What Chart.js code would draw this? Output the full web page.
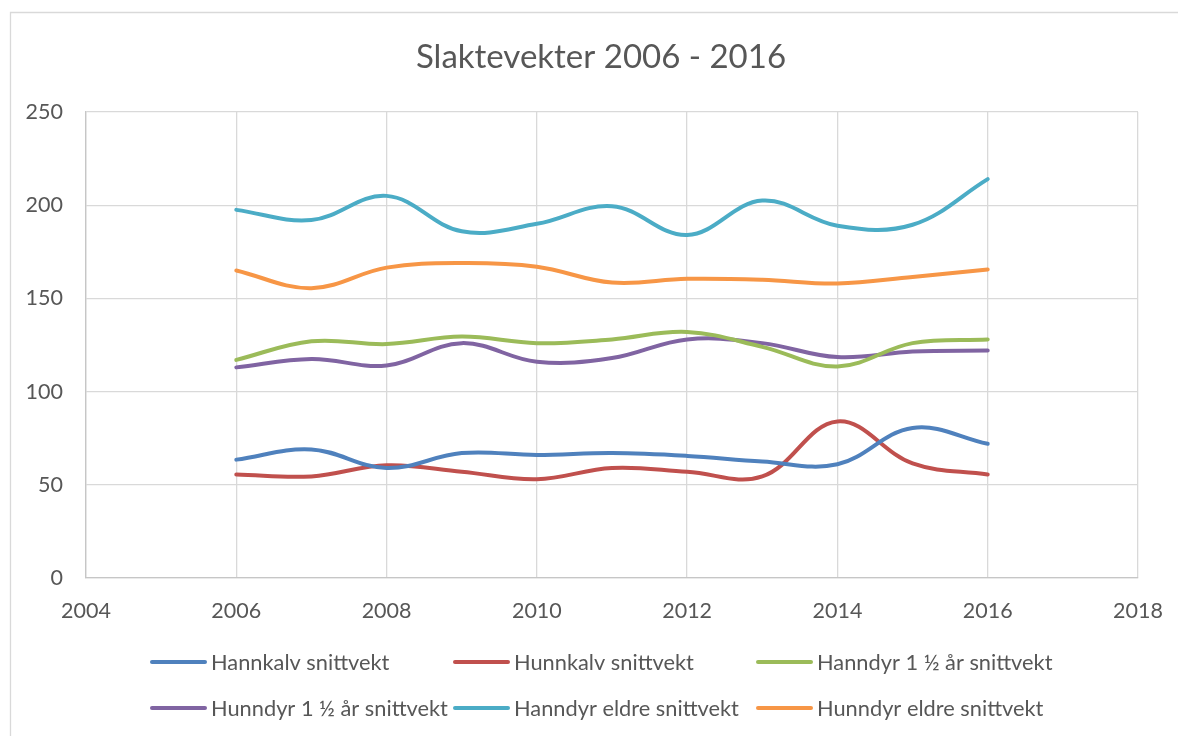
<!DOCTYPE html>
<html><head><meta charset="utf-8">
<script src="https://cdn.jsdelivr.net/npm/chart.js@4.4.1/dist/chart.umd.min.js"></script>
<style>html,body{margin:0;padding:0;background:#fff;overflow:hidden}</style>
</head><body>
<canvas id="c" width="1178" height="736"></canvas>
<script>
const chartTitle = "Slaktevekter 2006 - 2016";
const years = [2006, 2007, 2008, 2009, 2010, 2011, 2012, 2013, 2014, 2015, 2016];
const hannkalv      = [63.5, 69, 59, 67, 66, 67, 65.5, 62.5, 61, 80.5, 72];
const hunnkalv      = [55.5, 54.5, 60.5, 57, 53, 59, 57, 54.5, 84, 61.5, 55.5];
const hanndyr15     = [117, 127, 125.5, 129.5, 126, 128, 132, 124, 113.5, 126, 128];
const hunndyr15     = [113, 117.5, 114, 126, 116, 118, 128, 126, 118.5, 121.5, 122];
const hanndyrEldre  = [197.5, 192, 205, 186, 190, 199.5, 184, 202.5, 189, 189.5, 214];
const hunndyrEldre  = [165, 155.5, 166.5, 169, 167, 158.5, 160.5, 160, 158, 161.5, 165.5];
const seriesNames = ["Hannkalv snittvekt", "Hunnkalv snittvekt", "Hanndyr 1 \u00bd \u00e5r snittvekt",
                     "Hunndyr 1 \u00bd \u00e5r snittvekt", "Hanndyr eldre snittvekt", "Hunndyr eldre snittvekt"];
const seriesColors = ["#4F81BD", "#C0504D", "#9BBB59", "#8064A2", "#4BACC6", "#F79646"];
const xTickValues = [2004, 2006, 2008, 2010, 2012, 2014, 2016, 2018];
const yTickValues = [0, 50, 100, 150, 200, 250];

const seriesValues = [hannkalv, hunnkalv, hanndyr15, hunndyr15, hanndyrEldre, hunndyrEldre];
const FONT = "Lato, 'Open Sans', sans-serif";
const TEXT = "#575757";

const datasets = seriesValues.map((vals, i) => ({
  label: seriesNames[i],
  data: years.map((y, j) => ({x: y, y: vals[j]})),
  borderColor: seriesColors[i],
  backgroundColor: seriesColors[i],
  borderWidth: 4,
  pointRadius: 0,
  tension: 0.38,
  borderCapStyle: 'round',
  fill: false
}));

const decor = {
  id: 'decor',
  beforeDraw(chart) {
    const ctx = chart.ctx;
    ctx.save();
    ctx.strokeStyle = '#d9d9d9';
    ctx.lineWidth = 1.3;
    ctx.beginPath();
    ctx.moveTo(10.5, 800); ctx.lineTo(10.5, 12.5); ctx.lineTo(1200, 12.5);
    ctx.stroke();
    ctx.restore();
  },
  afterDraw(chart) {
    const ctx = chart.ctx;
    ctx.save();
    ctx.fillStyle = TEXT;
    ctx.font = "33px " + FONT;
    ctx.textAlign = 'center';
    ctx.textBaseline = 'middle';
    ctx.fillText(chartTitle, 601, 57);
    // legend: 3 columns x 2 rows
    const colX = [152, 455, 758];
    const rowY = [662, 708];
    ctx.font = "21.8px " + FONT;
    ctx.textAlign = 'left';
    chart.data.datasets.forEach((ds, i) => {
      const x = colX[i % 3], y = rowY[Math.floor(i / 3)];
      ctx.strokeStyle = ds.borderColor;
      ctx.lineWidth = 4;
      ctx.lineCap = 'round';
      ctx.beginPath();
      ctx.moveTo(x, y); ctx.lineTo(x + 53, y);
      ctx.stroke();
      ctx.fillStyle = TEXT;
      ctx.fillText(ds.label, x + 59, y + 1);
    });
    ctx.restore();
  }
};

new Chart(document.getElementById('c'), {
  type: 'line',
  data: { datasets },
  options: {
    responsive: false,
    animation: false,
    devicePixelRatio: 1,
    layout: { padding: { left: 10, top: 112, right: 40, bottom: 0 } },
    plugins: { legend: { display: false }, title: { display: false }, tooltip: { enabled: false } },
    scales: {
      x: {
        type: 'linear', min: 2004, max: 2018,
        afterBuildTicks: s => { s.ticks = xTickValues.map(v => ({value: v})); },
        afterFit: s => { s.height = 158; s.paddingLeft = 0; s.paddingRight = 0; },
        ticks: { color: TEXT, font: { family: FONT, size: 21.5 }, padding: 20, maxRotation: 0,
                 callback: v => String(v) },
        grid: { color: '#d9d9d9', lineWidth: 1.3, drawTicks: false },
        border: { color: '#c6c6c6', width: 1.3 }
      },
      y: {
        type: 'linear', min: 0, max: 250,
        afterBuildTicks: s => { s.ticks = yTickValues.map(v => ({value: v})); },
        afterFit: s => { s.width = 76; s.paddingTop = 0; s.paddingBottom = 0; },
        ticks: { color: TEXT, font: { family: FONT, size: 21.5 }, padding: 23, callback: v => String(v) },
        grid: { color: '#d9d9d9', lineWidth: 1.3, drawTicks: false },
        border: { color: '#c6c6c6', width: 1.3 }
      }
    }
  },
  plugins: [decor]
});
</script>
</body></html>
